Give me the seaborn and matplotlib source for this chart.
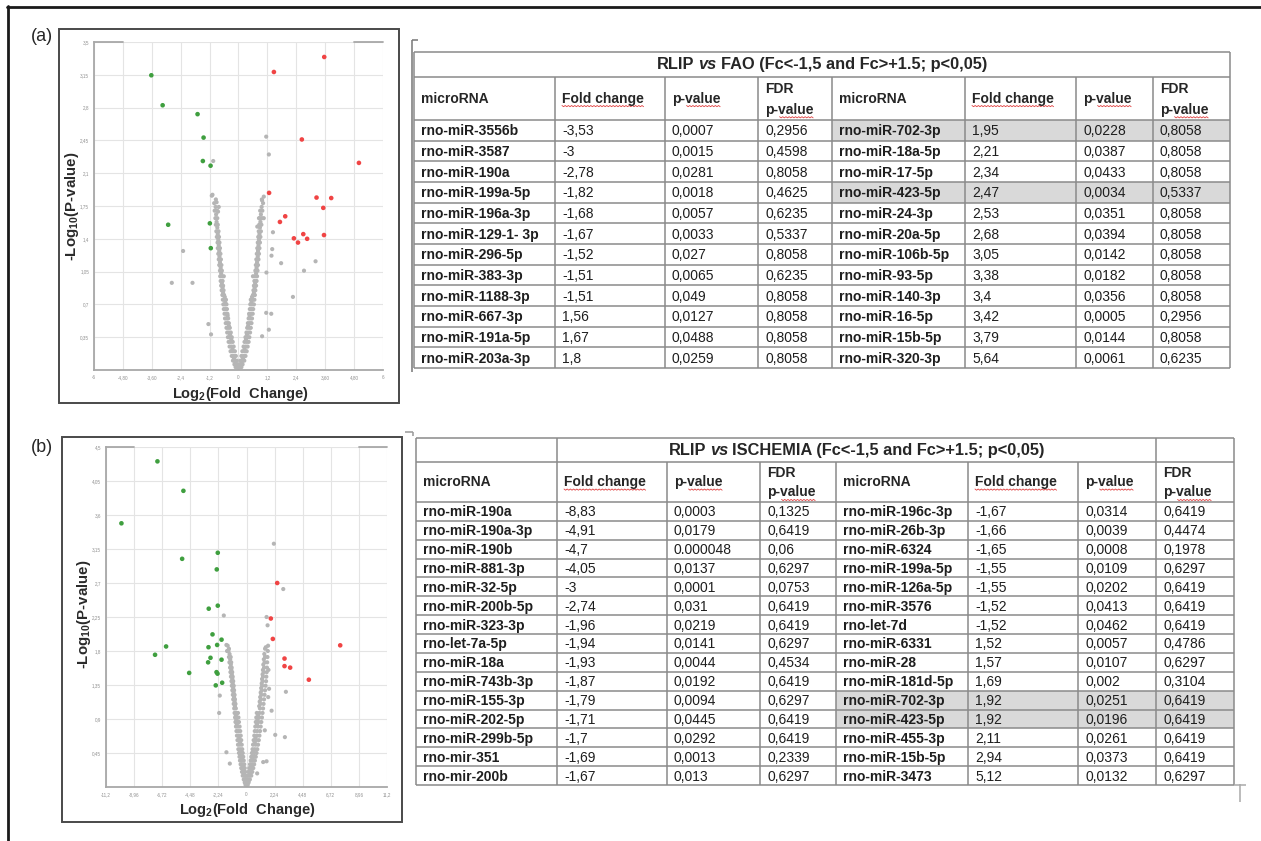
import numpy as np
import pandas as pd
import matplotlib
matplotlib.use('Agg')
import matplotlib.pyplot as plt
from matplotlib.patches import Rectangle
import seaborn as sns

W, H = 1261, 841

# ---------------- volcano (a): RLIP vs FAO ----------------
down_a = [(-3.62, 3.145), (-3.15, 2.825), (-1.70, 2.73), (-1.45, 2.48), (-1.48, 2.23),
          (-1.16, 2.18), (-2.92, 1.55), (-1.19, 1.565), (-1.15, 1.30)]
up_a = [(3.56, 3.34), (1.47, 3.18), (2.63, 2.46), (5.00, 2.21), (1.27, 1.89), (3.24, 1.84),
        (3.85, 1.835), (3.52, 1.73), (1.72, 1.58), (1.94, 1.64), (2.30, 1.405), (2.47, 1.36),
        (2.69, 1.45), (2.85, 1.40), (3.55, 1.44)]
ns_a = [
    # scattered
    (1.15, 2.49), (1.26, 2.30), (-1.05, 2.23), (-2.30, 1.27), (-2.77, 0.93), (-1.91, 0.93),
    (-1.11, 1.86), (1.37, 1.22), (1.77, 1.14), (3.20, 1.16), (2.72, 1.06), (2.26, 0.78),
    (1.15, 0.61), (1.36, 0.60), (-1.25, 0.49), (-1.14, 0.38), (1.26, 0.43), (0.98, 0.36),
    (1.16, 1.04), (1.43, 1.47), (1.40, 1.29), (-0.82, 1.74), (-0.85, 1.69), (-0.91, 1.79),
    (0.98, 1.81), (0.85, 1.62), (0.78, 1.53), (1.05, 1.62),
    # left arm
    (-0.12, 0.03), (-0.06, 0.03), (-0.02, 0.03), (-0.17, 0.06), (-0.10, 0.06), (-0.04, 0.06),
    (-0.23, 0.10), (-0.15, 0.10), (-0.07, 0.10), (-0.28, 0.15), (-0.20, 0.15), (-0.11, 0.15),
    (-0.33, 0.20), (-0.24, 0.20), (-0.15, 0.20), (-0.37, 0.25), (-0.29, 0.25), (-0.20, 0.25),
    (-0.41, 0.30), (-0.33, 0.30), (-0.24, 0.30), (-0.44, 0.35), (-0.36, 0.35), (-0.28, 0.35),
    (-0.47, 0.40), (-0.40, 0.40), (-0.32, 0.40), (-0.50, 0.45), (-0.43, 0.45), (-0.36, 0.45),
    (-0.53, 0.50), (-0.46, 0.50), (-0.40, 0.50), (-0.56, 0.55), (-0.49, 0.55), (-0.43, 0.55),
    (-0.58, 0.60), (-0.51, 0.60), (-0.46, 0.60), (-0.61, 0.65), (-0.54, 0.65), (-0.48, 0.65),
    (-0.63, 0.70), (-0.56, 0.70), (-0.50, 0.70), (-0.65, 0.75), (-0.58, 0.75), (-0.52, 0.75),
    (-0.67, 0.80), (-0.60, 0.80), (-0.70, 0.85), (-0.62, 0.85), (-0.72, 0.90), (-0.64, 0.90),
    (-0.74, 0.95), (-0.66, 0.95), (-0.76, 1.00), (-0.68, 1.00), (-0.61, 1.00), (-0.77, 1.06),
    (-0.69, 1.06), (-0.80, 1.12), (-0.71, 1.12), (-0.82, 1.18), (-0.73, 1.18), (-0.84, 1.24),
    (-0.75, 1.24), (-0.86, 1.30), (-0.77, 1.30), (-0.87, 1.36), (-0.79, 1.36), (-0.90, 1.42),
    (-0.81, 1.42), (-0.92, 1.48), (-0.83, 1.48), (-0.94, 1.55), (-0.86, 1.55), (-0.96, 1.62),
    (-0.88, 1.62), (-0.99, 1.70), (-0.89, 1.70), (-1.01, 1.78), (-1.08, 1.87),
    (-0.64, 0.82), (-0.66, 0.88), (-0.69, 0.93), (-0.72, 1.03), (-0.74, 1.09), (-0.77, 1.15),
    (-0.79, 1.21), (-0.80, 1.27), (-0.82, 1.33), (-0.84, 1.39), (-0.86, 1.45), (-0.88, 1.52),
    (-0.91, 1.58), (-0.93, 1.66), (-0.95, 1.74), (-0.94, 1.82), (-0.57, 0.78), (-0.55, 0.72),
    (-0.45, 0.58), (-0.40, 0.47), (-0.30, 0.33), (-0.35, 0.38), (-0.25, 0.22), (-0.19, 0.12),
    (-0.13, 0.08),
    # right arm
    (0.12, 0.03), (0.06, 0.03), (0.02, 0.03), (0.17, 0.06), (0.10, 0.06), (0.04, 0.06),
    (0.24, 0.10), (0.16, 0.10), (0.08, 0.10), (0.29, 0.15), (0.21, 0.15), (0.12, 0.15),
    (0.34, 0.20), (0.26, 0.20), (0.16, 0.20), (0.38, 0.25), (0.30, 0.25), (0.21, 0.25),
    (0.42, 0.30), (0.34, 0.30), (0.25, 0.30), (0.45, 0.35), (0.37, 0.35), (0.29, 0.35),
    (0.48, 0.40), (0.41, 0.40), (0.33, 0.40), (0.51, 0.45), (0.44, 0.45), (0.36, 0.45),
    (0.54, 0.50), (0.47, 0.50), (0.39, 0.50), (0.56, 0.55), (0.49, 0.55), (0.42, 0.55),
    (0.59, 0.60), (0.52, 0.60), (0.44, 0.60), (0.61, 0.65), (0.54, 0.65), (0.47, 0.65),
    (0.64, 0.70), (0.56, 0.70), (0.49, 0.70), (0.66, 0.75), (0.59, 0.75), (0.51, 0.75),
    (0.68, 0.80), (0.60, 0.80), (0.70, 0.85), (0.62, 0.85), (0.73, 0.90), (0.64, 0.90),
    (0.75, 0.95), (0.66, 0.95), (0.77, 1.00), (0.69, 1.00), (0.60, 1.00), (0.79, 1.06),
    (0.70, 1.06), (0.81, 1.12), (0.72, 1.12), (0.83, 1.18), (0.74, 1.18), (0.85, 1.24),
    (0.76, 1.24), (0.87, 1.30), (0.78, 1.30), (0.89, 1.36), (0.80, 1.36), (0.91, 1.42),
    (0.82, 1.42), (0.93, 1.48), (0.84, 1.48), (0.95, 1.55), (0.86, 1.55), (0.97, 1.62),
    (0.88, 1.62), (0.99, 1.70), (0.90, 1.70), (1.02, 1.78), (1.05, 1.85),
    (0.64, 0.82), (0.67, 0.88), (0.69, 0.93), (0.73, 1.03), (0.75, 1.09), (0.77, 1.15),
    (0.80, 1.21), (0.81, 1.27), (0.83, 1.33), (0.85, 1.39), (0.87, 1.45), (0.89, 1.52),
    (0.91, 1.58), (0.93, 1.66), (0.96, 1.74), (0.97, 1.82), (0.56, 0.78), (0.54, 0.72),
    (0.46, 0.58), (0.40, 0.47), (0.31, 0.33), (0.35, 0.38), (0.25, 0.22), (0.19, 0.12),
    (0.13, 0.08),
]
xt_a = ['-6', '-4,80', '-3,60', '-2,4', '-1,2', '0', '1,2', '2,4', '3,60', '4,80', '6']
yt_a = ['', '0,35', '0,7', '1,05', '1,4', '1,75', '2,1', '2,45', '2,8', '3,15', '3,5']

# ---------------- volcano (b): RLIP vs ISCHEMIA ----------------
down_b = [(-7.10, 4.31), (-5.03, 3.92), (-9.97, 3.49), (-5.13, 3.02), (-2.29, 3.10),
          (-2.37, 2.88), (-3.01, 2.36), (-2.29, 2.40), (-2.71, 2.02), (-1.99, 1.95),
          (-2.34, 1.88), (-3.03, 1.85), (-6.41, 1.86), (-7.29, 1.75), (-2.87, 1.71),
          (-3.06, 1.65), (-1.99, 1.685), (-4.57, 1.51), (-2.39, 1.52), (-2.31, 1.50),
          (-1.94, 1.38), (-2.45, 1.345)]
up_b = [(2.45, 2.70), (1.94, 2.23), (2.10, 1.96), (3.03, 1.70), (3.03, 1.60), (3.48, 1.58),
        (4.97, 1.42), (7.47, 1.875)]
ns_b = [
    # scattered
    (2.18, 3.22), (2.93, 2.62), (-1.81, 2.27), (1.60, 2.25), (1.68, 2.14), (1.54, 1.85),
    (-1.60, 1.88), (-2.13, 1.21), (3.14, 1.26), (1.73, 1.19), (-2.18, 0.98), (2.00, 1.01),
    (2.29, 0.69), (3.06, 0.66), (1.46, 0.75), (-1.60, 0.46), (-1.33, 0.31), (1.33, 0.33),
    (1.60, 0.34), (0.85, 0.18), (-1.55, 1.80), (1.75, 1.55), (1.80, 1.30),
    # left arm
    (-0.08, 0.03), (-0.03, 0.03), (-0.14, 0.06), (-0.06, 0.06), (-0.22, 0.10), (-0.10, 0.10),
    (-0.02, 0.10), (-0.30, 0.15), (-0.18, 0.15), (-0.06, 0.15), (-0.36, 0.20), (-0.24, 0.20),
    (-0.10, 0.20), (-0.42, 0.25), (-0.30, 0.25), (-0.14, 0.25), (-0.47, 0.30), (-0.34, 0.30),
    (-0.18, 0.30), (-0.52, 0.35), (-0.38, 0.35), (-0.22, 0.35), (-0.56, 0.40), (-0.42, 0.40),
    (-0.26, 0.40), (-0.60, 0.45), (-0.46, 0.45), (-0.30, 0.45), (-0.65, 0.50), (-0.50, 0.50),
    (-0.34, 0.50), (-0.68, 0.56), (-0.54, 0.56), (-0.38, 0.56), (-0.72, 0.62), (-0.58, 0.62),
    (-0.42, 0.62), (-0.76, 0.68), (-0.62, 0.68), (-0.46, 0.68), (-0.80, 0.74), (-0.66, 0.74),
    (-0.50, 0.74), (-0.84, 0.80), (-0.70, 0.80), (-0.55, 0.80), (-0.88, 0.86), (-0.74, 0.86),
    (-0.60, 0.86), (-0.91, 0.92), (-0.78, 0.92), (-0.64, 0.92), (-0.95, 0.98), (-0.82, 0.98),
    (-0.68, 0.98), (-0.98, 1.04), (-0.85, 1.04), (-1.02, 1.10), (-0.88, 1.10), (-1.06, 1.16),
    (-0.92, 1.16), (-1.09, 1.22), (-0.95, 1.22), (-1.13, 1.28), (-0.99, 1.28), (-1.17, 1.34),
    (-1.02, 1.34), (-1.20, 1.40), (-1.06, 1.40), (-1.24, 1.46), (-1.10, 1.46), (-1.28, 1.52),
    (-1.14, 1.52), (-1.31, 1.58), (-1.18, 1.58), (-1.36, 1.65), (-1.22, 1.65), (-1.40, 1.72),
    (-1.26, 1.72), (-1.44, 1.80), (-1.50, 1.87),
    (-0.77, 0.83), (-0.81, 0.89), (-0.85, 0.95), (-0.92, 1.07), (-0.95, 1.13), (-0.99, 1.19),
    (-1.03, 1.25), (-1.06, 1.31), (-1.10, 1.37), (-1.13, 1.43), (-1.17, 1.49), (-1.21, 1.55),
    (-1.25, 1.62), (-1.30, 1.69), (-1.35, 1.76), (-1.40, 1.83), (-0.58, 0.65), (-0.52, 0.59),
    (-0.44, 0.47), (-0.36, 0.38), (-0.28, 0.28), (-0.20, 0.18), (-0.12, 0.08),
    # right arm
    (0.10, 0.03), (0.04, 0.03), (0.17, 0.06), (0.08, 0.06), (0.27, 0.10), (0.14, 0.10),
    (0.04, 0.10), (0.38, 0.15), (0.24, 0.15), (0.10, 0.15), (0.46, 0.20), (0.32, 0.20),
    (0.16, 0.20), (0.54, 0.25), (0.38, 0.25), (0.22, 0.25), (0.61, 0.30), (0.44, 0.30),
    (0.28, 0.30), (0.67, 0.35), (0.50, 0.35), (0.33, 0.35), (0.74, 0.40), (0.56, 0.40),
    (0.38, 0.40), (0.80, 0.45), (0.61, 0.45), (0.43, 0.45), (0.86, 0.50), (0.66, 0.50),
    (0.48, 0.50), (0.92, 0.56), (0.72, 0.56), (0.52, 0.56), (0.98, 0.62), (0.77, 0.62),
    (0.57, 0.62), (1.03, 0.68), (0.82, 0.68), (0.62, 0.68), (1.08, 0.74), (0.86, 0.74),
    (0.66, 0.74), (1.13, 0.80), (0.91, 0.80), (0.70, 0.80), (1.18, 0.86), (0.95, 0.86),
    (0.74, 0.86), (1.23, 0.92), (0.99, 0.92), (0.78, 0.92), (1.28, 0.98), (1.03, 0.98),
    (0.82, 0.98), (1.32, 1.04), (1.07, 1.04), (1.36, 1.10), (1.11, 1.10), (1.40, 1.16),
    (1.14, 1.16), (1.44, 1.22), (1.18, 1.22), (1.48, 1.28), (1.21, 1.28), (1.52, 1.34),
    (1.25, 1.34), (1.56, 1.40), (1.28, 1.40), (1.58, 1.46), (1.32, 1.46), (1.61, 1.52),
    (1.36, 1.52), (1.63, 1.58), (1.40, 1.58), (1.65, 1.65), (1.44, 1.65), (1.67, 1.72),
    (1.48, 1.72), (1.70, 1.80), (1.72, 1.87),
    (0.84, 0.83), (0.88, 0.89), (0.93, 0.95), (1.01, 1.07), (1.05, 1.13), (1.09, 1.19),
    (1.13, 1.25), (1.17, 1.31), (1.21, 1.37), (1.24, 1.43), (1.28, 1.49), (1.31, 1.55),
    (1.34, 1.62), (1.38, 1.69), (1.42, 1.76), (1.48, 1.83), (0.72, 0.65), (0.66, 0.59),
    (0.56, 0.47), (0.48, 0.38), (0.38, 0.28), (0.27, 0.18), (0.16, 0.08),
]
xt_b = ['-11,2', '-8,96', '-6,72', '-4,48', '-2,24', '0', '2,24', '4,48', '6,72', '8,96', '11,2']
yt_b = ['', '0,45', '0,9', '1,35', '1,8', '2,25', '2,7', '3,15', '3,6', '4,05', '4,5']

# ---------------- table (a) ----------------
fao_l_mirna = ['rno-miR-3556b', 'rno-miR-3587', 'rno-miR-190a', 'rno-miR-199a-5p', 'rno-miR-196a-3p',
               'rno-miR-129-1- 3p', 'rno-miR-296-5p', 'rno-miR-383-3p', 'rno-miR-1188-3p',
               'rno-miR-667-3p', 'rno-miR-191a-5p', 'rno-miR-203a-3p']
fao_l_fc = ['-3,53', '-3', '-2,78', '-1,82', '-1,68', '-1,67', '-1,52', '-1,51', '-1,51', '1,56', '1,67', '1,8']
fao_l_p = ['0,0007', '0,0015', '0,0281', '0,0018', '0,0057', '0,0033', '0,027', '0,0065', '0,049',
           '0,0127', '0,0488', '0,0259']
fao_l_fdr = ['0,2956', '0,4598', '0,8058', '0,4625', '0,6235', '0,5337', '0,8058', '0,6235', '0,8058',
             '0,8058', '0,8058', '0,8058']
fao_r_mirna = ['rno-miR-702-3p', 'rno-miR-18a-5p', 'rno-miR-17-5p', 'rno-miR-423-5p', 'rno-miR-24-3p',
               'rno-miR-20a-5p', 'rno-miR-106b-5p', 'rno-miR-93-5p', 'rno-miR-140-3p', 'rno-miR-16-5p',
               'rno-miR-15b-5p', 'rno-miR-320-3p']
fao_r_fc = ['1,95', '2,21', '2,34', '2,47', '2,53', '2,68', '3,05', '3,38', '3,4', '3,42', '3,79', '5,64']
fao_r_p = ['0,0228', '0,0387', '0,0433', '0,0034', '0,0351', '0,0394', '0,0142', '0,0182', '0,0356',
           '0,0005', '0,0144', '0,0061']
fao_r_fdr = ['0,8058', '0,8058', '0,8058', '0,5337', '0,8058', '0,8058', '0,8058', '0,8058', '0,8058',
             '0,2956', '0,8058', '0,6235']
fao_shade = [0, 3]

# ---------------- table (b) ----------------
isc_l_mirna = ['rno-miR-190a', 'rno-miR-190a-3p', 'rno-miR-190b', 'rno-miR-881-3p', 'rno-miR-32-5p',
               'rno-miR-200b-5p', 'rno-miR-323-3p', 'rno-let-7a-5p', 'rno-miR-18a', 'rno-miR-743b-3p',
               'rno-miR-155-3p', 'rno-miR-202-5p', 'rno-miR-299b-5p', 'rno-mir-351', 'rno-mir-200b']
isc_l_fc = ['-8,83', '-4,91', '-4,7', '-4,05', '-3', '-2,74', '-1,96', '-1,94', '-1,93', '-1,87',
            '-1,79', '-1,71', '-1,7', '-1,69', '-1,67']
isc_l_p = ['0,0003', '0,0179', '0.000048', '0,0137', '0,0001', '0,031', '0,0219', '0,0141', '0,0044',
           '0,0192', '0,0094', '0,0445', '0,0292', '0,0013', '0,013']
isc_l_fdr = ['0,1325', '0,6419', '0,06', '0,6297', '0,0753', '0,6419', '0,6419', '0,6297', '0,4534',
             '0,6419', '0,6297', '0,6419', '0,6419', '0,2339', '0,6297']
isc_r_mirna = ['rno-miR-196c-3p', 'rno-miR-26b-3p', 'rno-miR-6324', 'rno-miR-199a-5p', 'rno-miR-126a-5p',
               'rno-miR-3576', 'rno-let-7d', 'rno-miR-6331', 'rno-miR-28', 'rno-miR-181d-5p',
               'rno-miR-702-3p', 'rno-miR-423-5p', 'rno-miR-455-3p', 'rno-miR-15b-5p', 'rno-miR-3473']
isc_r_fc = ['-1,67', '-1,66', '-1,65', '-1,55', '-1,55', '-1,52', '-1,52', '1,52', '1,57', '1,69',
            '1,92', '1,92', '2,11', '2,94', '5,12']
isc_r_p = ['0,0314', '0,0039', '0,0008', '0,0109', '0,0202', '0,0413', '0,0462', '0,0057', '0,0107',
           '0,002', '0,0251', '0,0196', '0,0261', '0,0373', '0,0132']
isc_r_fdr = ['0,6419', '0,4474', '0,1978', '0,6297', '0,6419', '0,6419', '0,6419', '0,4786', '0,6297',
             '0,3104', '0,6419', '0,6419', '0,6419', '0,6419', '0,6297']
isc_shade = [10, 11]

# ---------------- style ----------------
sns.set_style('white')
plt.rcParams['font.family'] = ['Liberation Sans', 'DejaVu Sans']
plt.rcParams['mathtext.fontset'] = 'custom'
plt.rcParams['mathtext.rm'] = 'Liberation Sans'
plt.rcParams['mathtext.bf'] = 'Liberation Sans:bold'

fig = plt.figure(figsize=(W / 100, H / 100), dpi=100)


def px(x0, y0, x1, y1):
    return [x0 / W, 1 - y1 / H, (x1 - x0) / W, (y1 - y0) / H]


def volcano(box, down, up, ns, xmax, ymax, xt, yt):
    ax = fig.add_axes(px(*box))
    df = pd.DataFrame([(x, y, 'ns') for x, y in ns] + [(x, y, 'down') for x, y in down]
                      + [(x, y, 'up') for x, y in up], columns=['fc', 'logp', 'group'])
    sns.scatterplot(data=df, x='fc', y='logp', hue='group', size='group',
                    palette={'ns': '#b5b5b5', 'down': '#3f9f3f', 'up': '#f04444'},
                    sizes={'ns': 9, 'down': 11, 'up': 11}, linewidth=0, legend=False, ax=ax)
    ax.set_xlim(-xmax, xmax)
    ax.set_ylim(0, ymax)
    ax.set_xticks(np.linspace(-xmax, xmax, 11))
    ax.set_xticklabels(xt)
    ax.set_yticks(np.linspace(0, ymax, 11))
    ax.set_yticklabels(yt)
    ax.set_xlabel('')
    ax.set_ylabel('')
    ax.grid(True, color='#e4e4e4', lw=0.8)
    ax.set_axisbelow(True)
    for s in ['top', 'right']:
        ax.spines[s].set_visible(False)
    for s in ['left', 'bottom']:
        ax.spines[s].set_color('#a8a8a8')
        ax.spines[s].set_linewidth(1.3)
    ax.tick_params(labelsize=3.3, colors='#909090', length=2, width=0.6, pad=1.5)
    for a, b in [(0, 0.1), (0.9, 1.0)]:
        ax.plot([a, b], [1, 1], transform=ax.transAxes, color='#a8a8a8', lw=1.3, clip_on=False)
    return ax


volcano((94, 42, 383, 370), down_a, up_a, ns_a, 6, 3.5, xt_a, yt_a)
volcano((106, 447, 387, 787), down_b, up_b, ns_b, 11.2, 4.5, xt_b, yt_b)

# overlay in pixel coordinates for frames, labels and tables
ax = fig.add_axes([0, 0, 1, 1])
ax.set_xlim(0, W)
ax.set_ylim(H, 0)
ax.axis('off')
renderer = fig.canvas.get_renderer()


def ext(t):
    bb = t.get_window_extent(renderer)
    return bb.x0, bb.x1, H - bb.y0


# figure border
ax.plot([7, W], [6.5, 6.5], color='#1a1a1a', lw=2)
ax.plot([8, 8], [6, H], color='#1a1a1a', lw=2)

# volcano frames and labels
for (x0, y0, x1, y1) in [(59, 29, 399, 403), (62, 437, 402, 822)]:
    ax.add_patch(Rectangle((x0, y0), x1 - x0, y1 - y0, fill=False, ec='#4a4a4a', lw=1.4))
ax.text(42, 36, '(a)', fontsize=13, ha='center', va='center')
ax.text(42, 447, '(b)', fontsize=13, ha='center', va='center')
ylab = r'-Log$_{\mathbf{10}}$(P-value)'
xlab = r'Log$_{\mathbf{2}}$(Fold  Change)'
LAB = dict(fontweight='bold', ha='center', va='center', color='#2a2a2a')
ax.text(72, 206, ylab, rotation=90, fontsize=10.8, **LAB)
ax.text(240, 394, xlab, fontsize=10.5, **LAB)
ax.text(84, 614, ylab, rotation=90, fontsize=10.8, **LAB)
ax.text(247, 810, xlab, fontsize=10.5, **LAB)

LINE = '#8a8a8a'
FS = 10
PAD = 7


def hline(x0, x1, y, c=LINE):
    ax.plot([x0, x1], [y, y], color=c, lw=1.1, solid_capstyle='butt')


def vline(x, y0, y1, c=LINE):
    ax.plot([x, x], [y0, y1], color=c, lw=1.1, solid_capstyle='butt')


def squiggle(x0, x1, y):
    xs = np.arange(x0, x1, 1.6)
    ys = y + np.tile([0.0, 1.2], len(xs))[:len(xs)]
    ax.plot(xs, ys, color='#e04040', lw=0.6)


def title(xc, yc, parts):
    ts, x = [], 0
    for s, st in parts:
        t = ax.text(x, yc, s, fontsize=11.8, fontweight='bold', fontstyle=st, ha='left', va='center')
        _, x1, _ = ext(t)
        ts.append(t)
        x = x1 + 4
    shift = xc - (x - 4) / 2
    for t in ts:
        t.set_x(t.get_position()[0] + shift)


def table(cols, top, t_bot, h_bot, bottom, left, right, shade, tparts, split):
    n = len(left[0])
    rh = (bottom - h_bot) / n
    for i in shade:
        ax.add_patch(Rectangle((cols[4], h_bot + i * rh), cols[8] - cols[4], rh,
                               color='#d9d9d9', lw=0, zorder=0))
    for y in [top, t_bot, h_bot] + [h_bot + (i + 1) * rh for i in range(n)]:
        hline(cols[0], cols[8], y)
    for x in cols:
        vline(x, t_bot, bottom)
    for x in ([cols[0], cols[1], cols[7], cols[8]] if split else [cols[0], cols[8]]):
        vline(x, top, t_bot)
    if split:
        title((cols[1] + cols[7]) / 2, (top + t_bot) / 2, tparts)
    else:
        title((cols[0] + cols[8]) / 2, (top + t_bot) / 2, tparts)
    # header
    yc = (t_bot + h_bot) / 2
    for k in (0, 4):
        ax.text(cols[k] + PAD, yc, 'microRNA', fontsize=FS, fontweight='bold', va='center')
        t = ax.text(cols[k + 1] + PAD, yc, 'Fold change', fontsize=FS, fontweight='bold', va='center')
        a, b, yb = ext(t)
        squiggle(a, b, yb)
        t = ax.text(cols[k + 2] + PAD, yc, 'p-value', fontsize=FS, fontweight='bold', va='center')
        a, b, yb = ext(t)
        squiggle(a + (b - a) * 0.3, b, yb)
        ax.text(cols[k + 3] + PAD, t_bot + (h_bot - t_bot) * 0.28, 'FDR', fontsize=FS,
                fontweight='bold', va='center')
        t = ax.text(cols[k + 3] + PAD, t_bot + (h_bot - t_bot) * 0.76, 'p-value', fontsize=FS,
                    fontweight='bold', va='center')
        a, b, yb = ext(t)
        squiggle(a + (b - a) * 0.3, b, yb)
    # body
    for k, block in ((0, left), (4, right)):
        for i in range(n):
            y = h_bot + (i + 0.55) * rh
            for j, col in enumerate(block):
                ax.text(cols[k + j] + PAD, y, col[i], fontsize=FS, va='center', color='#1e1e1e',
                        fontweight='bold' if j == 0 else 'normal')


table([414, 555, 665, 758, 832, 965, 1076, 1153, 1230], 52, 77, 120, 368,
      [fao_l_mirna, fao_l_fc, fao_l_p, fao_l_fdr], [fao_r_mirna, fao_r_fc, fao_r_p, fao_r_fdr],
      fao_shade, [('RLIP', 'normal'), ('vs', 'italic'), ('FAO (Fc<-1,5 and Fc>+1.5; p<0,05)', 'normal')],
      False)
table([416, 557, 667, 760, 836, 968, 1078, 1156, 1234], 438, 462, 502, 785,
      [isc_l_mirna, isc_l_fc, isc_l_p, isc_l_fdr], [isc_r_mirna, isc_r_fc, isc_r_p, isc_r_fdr],
      isc_shade, [('RLIP', 'normal'), ('vs', 'italic'), ('ISCHEMIA (Fc<-1,5 and Fc>+1.5; p<0,05)', 'normal')],
      True)

# page-edge marks around the tables
vline(412, 40, 372, '#777777')
hline(412, 418, 40, '#777777')
hline(405, 413, 432, '#999999')
vline(413, 432, 436, '#999999')
vline(1240, 784, 802, '#aaaaaa')
hline(1234, 1246, 785, '#aaaaaa')

fig.savefig('out.png', dpi=100)
